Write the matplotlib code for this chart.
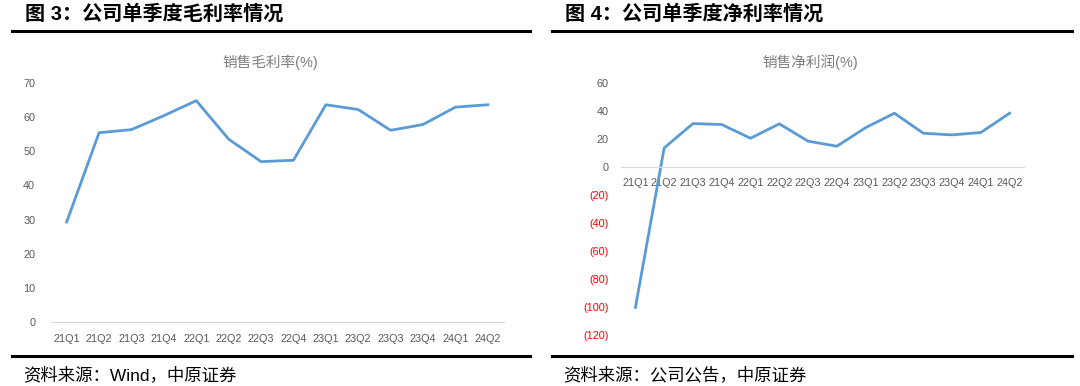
import matplotlib
matplotlib.use("Agg")
import matplotlib.pyplot as plt
from matplotlib.lines import Line2D
from matplotlib.ticker import FuncFormatter

plt.rcParams['font.family'] = ['Liberation Sans', 'Noto Sans CJK SC', 'DejaVu Sans']

quarters = ["21Q1", "21Q2", "21Q3", "21Q4", "22Q1", "22Q2", "22Q3",
            "22Q4", "23Q1", "23Q2", "23Q3", "23Q4", "24Q1", "24Q2"]
gross_margin = [29.3, 55.5, 56.4, 60.5, 64.9, 53.6, 47.0,
                47.4, 63.7, 62.3, 56.2, 57.9, 63.0, 63.7]
net_margin = [-100.3, 13.8, 31.2, 30.5, 20.7, 31.0, 18.6,
              15.0, 28.3, 38.6, 24.3, 23.1, 24.8, 38.6]

left_ticks = [0, 10, 20, 30, 40, 50, 60, 70]
right_ticks = [-120, -100, -80, -60, -40, -20, 0, 20, 40, 60]

blue = "#5B9BD5"
tick_grey = "#595959"
title_grey = "#7F7F7F"
axis_grey = "#D9D9D9"

W, H = 1080, 386
fig = plt.figure(figsize=(W / 100, H / 100), dpi=100)


def fx(px):
    return px / W


def fy(py):
    return 1 - py / H


def style(ax):
    for s in ["top", "right", "left"]:
        ax.spines[s].set_visible(False)
    ax.spines["bottom"].set_color(axis_grey)
    ax.spines["bottom"].set_linewidth(0.9)
    ax.tick_params(length=0, labelsize=7.8, colors=tick_grey)
    ax.set_xticks(range(len(quarters)))
    ax.set_xticklabels(quarters)
    ax.set_xlim(-0.5, len(quarters) - 0.5)
    ax.patch.set_alpha(0)


# left chart: gross margin
ax1 = fig.add_axes([fx(50.5), fy(321.7), fx(504 - 50.5), (321.7 - 83.3) / H])
ax1.plot(range(len(quarters)), gross_margin, color=blue, lw=2.0, solid_joinstyle="round")
style(ax1)
ax1.set_ylim(0, 70)
ax1.set_yticks(left_ticks)
ax1.tick_params(axis="y", pad=11)
ax1.tick_params(axis="x", pad=9)

# right chart: net margin
ax2 = fig.add_axes([fx(621), fy(335), fx(1024 - 621), (335 - 83.3) / H])
ax2.plot(range(len(quarters)), net_margin, color=blue, lw=2.0, solid_joinstyle="round")
style(ax2)
ax2.set_ylim(-120, 60)
ax2.set_yticks(right_ticks)
ax2.spines["bottom"].set_position(("data", 0))
ax2.tick_params(axis="y", pad=9)
ax2.tick_params(axis="x", pad=8)
ax2.yaxis.set_major_formatter(FuncFormatter(
    lambda v, p: "({:d})".format(int(abs(v))) if v < 0 else "{:d}".format(int(v))))
for lab, v in zip(ax2.get_yticklabels(), right_ticks):
    lab.set_color("#FF0000" if v < 0 else tick_grey)

# chart titles
fig.text(fx(270), fy(62), "销售毛利率(%)", ha="center", va="center",
         fontsize=10.5, color=title_grey)
fig.text(fx(810), fy(62), "销售净利润(%)", ha="center", va="center",
         fontsize=10.5, color=title_grey)

# figure headers
fig.text(fx(25), fy(14), "图 3：公司单季度毛利率情况", ha="left", va="center",
         fontsize=14.5, fontweight="bold", color="black")
fig.text(fx(565), fy(14), "图 4：公司单季度净利率情况", ha="left", va="center",
         fontsize=14.5, fontweight="bold", color="black")

# rule lines
for x0, x1 in [(12, 530), (552, 1072)]:
    for yy in (30.5, 356):
        fig.add_artist(Line2D([fx(x0), fx(x1)], [fy(yy), fy(yy)],
                              color="black", lw=2.2, transform=fig.transFigure))

# sources
fig.text(fx(23), fy(375), "资料来源：Wind，中原证券", ha="left", va="center",
         fontsize=12.5, color="black")
fig.text(fx(563), fy(375), "资料来源：公司公告，中原证券", ha="left", va="center",
         fontsize=12.5, color="black")

fig.savefig("out.png", dpi=100)
